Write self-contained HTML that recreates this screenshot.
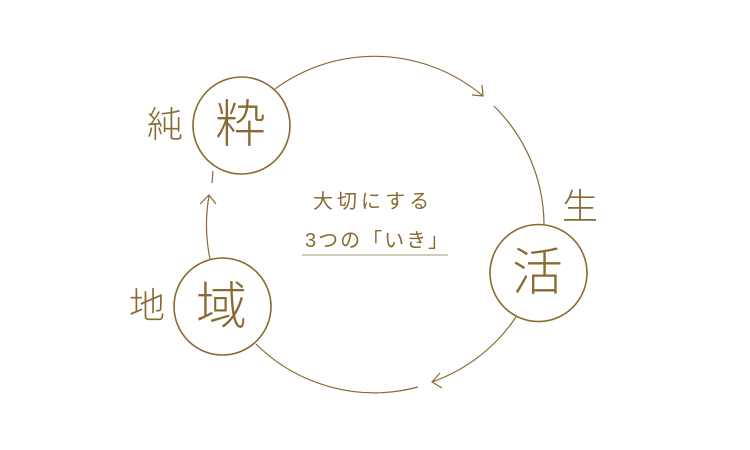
<!DOCTYPE html>
<html><head><meta charset="utf-8"><style>
html,body{margin:0;padding:0;background:#fff;}
body{width:750px;height:450px;overflow:hidden;position:relative;font-family:"Liberation Sans","Noto Sans CJK JP",sans-serif;color:#8a6a32;}
.t{position:absolute;line-height:1;white-space:nowrap;font-weight:300;}
</style></head><body>
<svg width="750" height="450" style="position:absolute;left:0;top:0" fill="none" stroke="#8a6a32" stroke-width="1.2">
<path d="M275,89 A168,168 0 0 1 483,96"/>
<path d="M472,95 L483,96 L482,85"/>
<path d="M494,106 A168,168 0 0 1 544,224"/>
<path d="M516,317 A168,168 0 0 1 432,382"/>
<path d="M440,373 L432,382 L442,388"/>
<path d="M418,387 A168,168 0 0 1 256,344"/>
<path d="M210,259 A168,168 0 0 1 209,196"/>
<path d="M200,204 L209,195 L216,204"/>
<path d="M212,183 L213,171"/>
<circle cx="241.5" cy="125.5" r="48.5" fill="#fff" stroke-width="1.6"/>
<circle cx="538.5" cy="273" r="48.5" fill="#fff" stroke-width="1.6"/>
<circle cx="222.5" cy="306.5" r="48.5" fill="#fff" stroke-width="1.6"/>
<line x1="302" y1="255" x2="448" y2="255" stroke="#a89470" stroke-width="1"/>
</svg>
<div class="t" style="left:215px;top:99px;font-size:51px;">粋</div>
<div class="t" style="left:512px;top:247px;font-size:51px;">活</div>
<div class="t" style="left:196px;top:281px;font-size:51px;">域</div>
<div class="t" style="left:147px;top:107px;font-size:36px;">純</div>
<div class="t" style="left:562px;top:189px;font-size:36px;">生</div>
<div class="t" style="left:129px;top:288px;font-size:36px;">地</div>
<div class="t" style="left:313px;top:192px;font-size:20px;letter-spacing:4px;font-weight:400;">大切にする</div>
<div class="t" style="left:305px;top:231px;font-size:20px;letter-spacing:2px;font-weight:400;">3つの「いき」</div>
</body></html>
